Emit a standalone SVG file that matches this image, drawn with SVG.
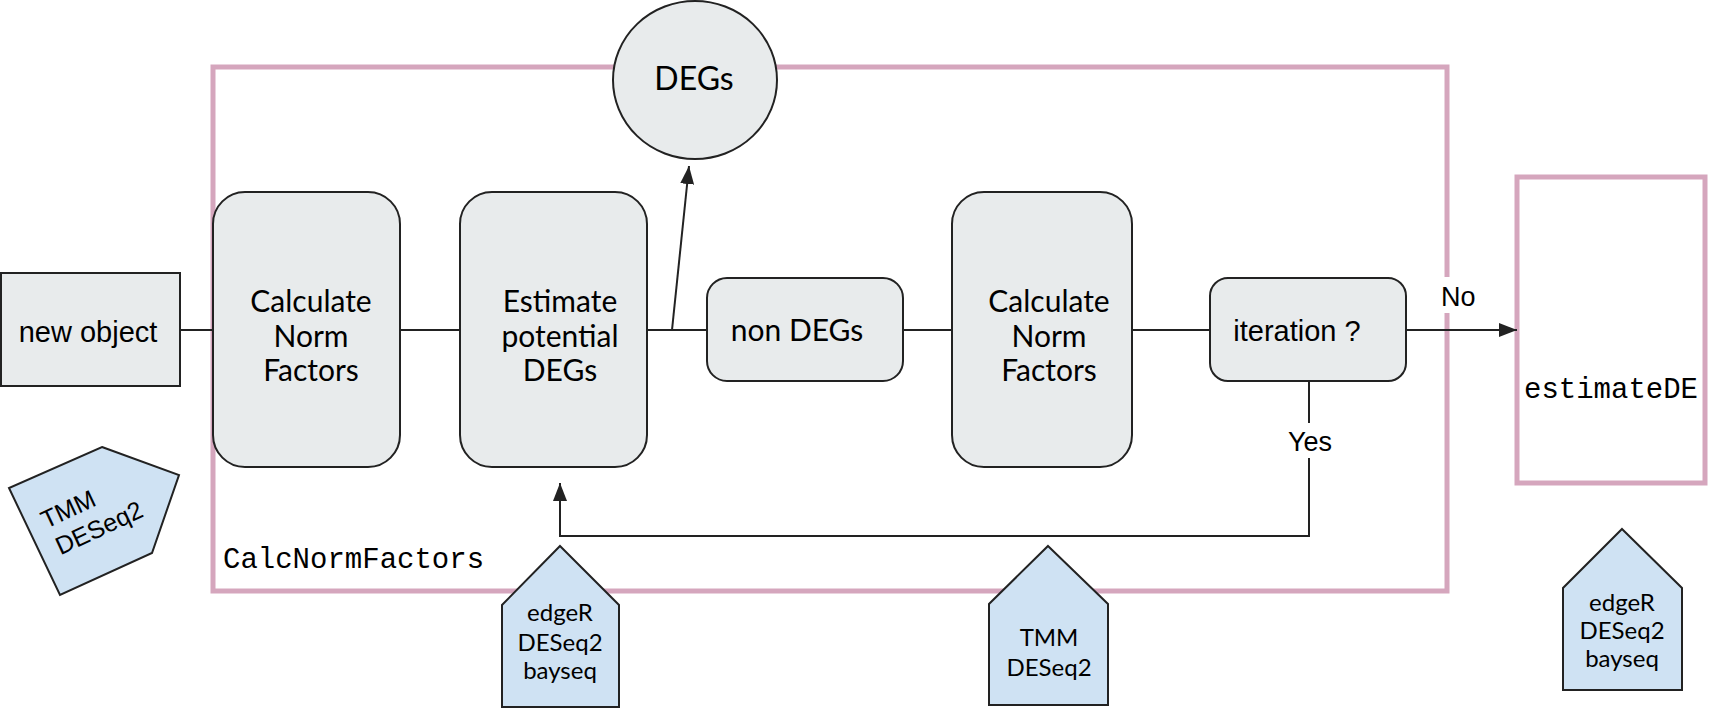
<svg xmlns="http://www.w3.org/2000/svg" width="1717" height="720" viewBox="0 0 1717 720">
<style>
.box{fill:#e8ebec;stroke:#222;stroke-width:2}
.tag{fill:#cfe2f3;stroke:#222;stroke-width:2}
.frame{fill:none;stroke:#d5a6bd;stroke-width:5}
.ln{fill:none;stroke:#222;stroke-width:2}
.lato{font-family:Lato,"Noto Sans",sans-serif;font-size:30px;fill:#000;text-anchor:middle}
.sm{font-family:Lato,"Noto Sans",sans-serif;font-size:24px;fill:#000;text-anchor:middle}
.ar{font-family:"Liberation Sans",Arial,sans-serif;font-size:28px;fill:#000}
.mono{font-family:"Liberation Mono","Courier New",monospace;font-size:29px;fill:#000}
</style>
<defs>
<marker id="ah" markerUnits="userSpaceOnUse" markerWidth="18" markerHeight="14" refX="18" refY="7" orient="auto">
<path d="M0,0 L18,7 L0,14 z" fill="#222"/>
</marker>
</defs>
<g id="frame-calcnorm">
<rect class="frame" x="213" y="67" width="1234" height="524"/>
<text class="mono" x="223" y="568">CalcNormFactors</text>
</g>
<g id="frame-estimateDE">
<rect class="frame" x="1517" y="177" width="188" height="306"/>
<text class="mono" x="1611" y="398" text-anchor="middle">estimateDE</text>
</g>
<g id="connectors">
<line class="ln" x1="180" y1="330" x2="213" y2="330"/>
<line class="ln" x1="400" y1="330" x2="460" y2="330"/>
<line class="ln" x1="647" y1="330" x2="707" y2="330"/>
<line class="ln" x1="672" y1="330" x2="689" y2="166" marker-end="url(#ah)"/>
<line class="ln" x1="903" y1="330" x2="952" y2="330"/>
<line class="ln" x1="1132" y1="330" x2="1210" y2="330"/>
<line class="ln" x1="1406" y1="330" x2="1517" y2="330" marker-end="url(#ah)"/>
<path class="ln" d="M1309,381 V536 H560 V483" marker-end="url(#ah)"/>
<rect x="1437" y="277" width="44" height="36" fill="#fff"/>
<text class="ar" x="1441" y="306" style="font-size:27px">No</text>
<rect x="1285" y="423" width="50" height="35" fill="#fff"/>
<text class="ar" x="1310" y="451" text-anchor="middle" style="font-size:27px">Yes</text>
</g>
<g id="new-object">
<rect class="box" x="1" y="273" width="179" height="113"/>
<text class="ar" x="88" y="342" text-anchor="middle" style="font-size:29px">new object</text>
</g>
<g id="calc-norm-1">
<rect class="box" x="213" y="192" width="187" height="275" rx="32"/>
<text class="lato"><tspan x="311" y="312">Calculate</tspan><tspan x="311" y="347">Norm</tspan><tspan x="311" y="381">Factors</tspan></text>
</g>
<g id="estimate-degs">
<rect class="box" x="460" y="192" width="187" height="275" rx="32"/>
<text class="lato"><tspan x="560" y="312">Estimate</tspan><tspan x="560" y="347">potential</tspan><tspan x="560" y="381">DEGs</tspan></text>
</g>
<g id="degs">
<ellipse class="box" cx="695" cy="80" rx="82" ry="79"/>
<text class="lato" x="694" y="90" style="font-size:32px">DEGs</text>
</g>
<g id="non-degs">
<rect class="box" x="707" y="278" width="196" height="103" rx="20"/>
<text class="lato" x="797" y="341">non DEGs</text>
</g>
<g id="calc-norm-2">
<rect class="box" x="952" y="192" width="180" height="275" rx="32"/>
<text class="lato"><tspan x="1049" y="312">Calculate</tspan><tspan x="1049" y="347">Norm</tspan><tspan x="1049" y="381">Factors</tspan></text>
</g>
<g id="iteration">
<rect class="box" x="1210" y="278" width="196" height="103" rx="18"/>
<text class="ar" x="1297" y="341" text-anchor="middle" style="font-size:29px">iteration ?</text>
</g>
<g id="tag-left">
<polygon class="tag" points="102,447 179,475 152,553 60,595 9,488"/>
<g transform="translate(46,529) rotate(-25)">
<text class="ar" x="0" y="0" style="font-size:25px">TMM</text>
<text class="ar" x="2" y="30" style="font-size:25px">DESeq2</text>
</g>
</g>
<g id="tag-estimate">
<polygon class="tag" points="560,546 619,605 619,707 502,707 502,605"/>
<text class="sm"><tspan x="560" y="621">edgeR</tspan><tspan x="560" y="651">DESeq2</tspan><tspan x="560" y="679">bayseq</tspan></text>
</g>
<g id="tag-calc2">
<polygon class="tag" points="1048,546 1108,604 1108,705 989,705 989,604"/>
<text class="sm"><tspan x="1049" y="646">TMM</tspan><tspan x="1049" y="676">DESeq2</tspan></text>
</g>
<g id="tag-right">
<polygon class="tag" points="1622,529 1682,588 1682,690 1563,690 1563,588"/>
<text class="sm"><tspan x="1622" y="611">edgeR</tspan><tspan x="1622" y="639">DESeq2</tspan><tspan x="1622" y="667">bayseq</tspan></text>
</g>
</svg>
